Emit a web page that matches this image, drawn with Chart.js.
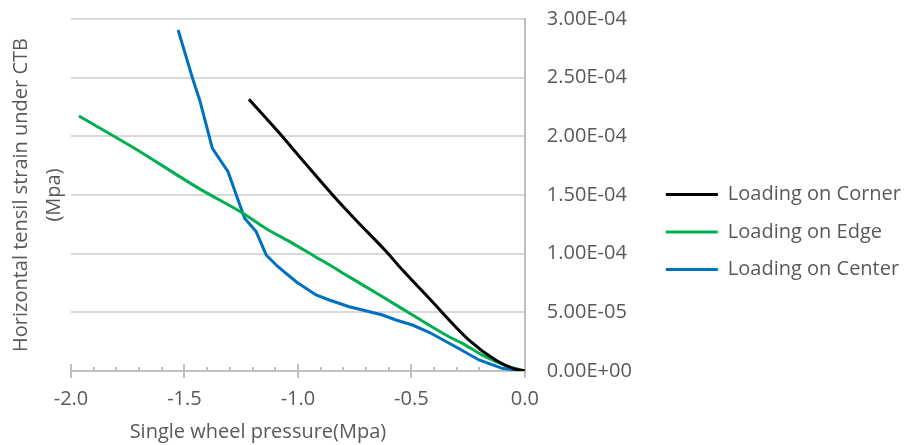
<!DOCTYPE html>
<html>
<head>
<meta charset="utf-8">
<script src="https://cdn.jsdelivr.net/npm/chart.js@4.4.1/dist/chart.umd.min.js"></script>
<style>
html,body{margin:0;padding:0;background:#ffffff;}
canvas{display:block;}
</style>
</head>
<body>
<canvas id="c" width="905" height="445"></canvas>
<script>
// ---- data ----
const seriesNames = ['Loading on Corner', 'Loading on Edge', 'Loading on Center'];

const cornerX = [-1.216, -1.081, -0.979, -0.847, -0.744, -0.612, -0.539, -0.422, -0.246, -0.129, -0.050, 0.0];
const cornerY = [2.316e-4, 2.026e-4, 1.795e-4, 1.500e-4, 1.285e-4, 1.020e-4, 0.860e-4, 0.620e-4, 0.264e-4, 0.094e-4, 0.020e-4, 0.0];

const edgeX = [-1.965, -1.726, -1.433, -1.243, -1.141, -1.023, -0.920, -0.862, -0.774, -0.627, -0.495, -0.334, -0.275, -0.188, -0.070, 0.0];
const edgeY = [2.173e-4, 1.905e-4, 1.552e-4, 1.345e-4, 1.215e-4, 1.088e-4, 0.970e-4, 0.905e-4, 0.802e-4, 0.633e-4, 0.477e-4, 0.292e-4, 0.236e-4, 0.136e-4, 0.037e-4, 0.0];

const centerX = [-1.528, -1.462, -1.433, -1.377, -1.308, -1.235, -1.184, -1.140, -1.088, -1.008, -0.920, -0.862, -0.774, -0.715, -0.627, -0.568, -0.495, -0.422, -0.305, -0.202, -0.100, 0.0];
const centerY = [2.906e-4, 2.480e-4, 2.310e-4, 1.898e-4, 1.699e-4, 1.301e-4, 1.188e-4, 0.989e-4, 0.889e-4, 0.761e-4, 0.648e-4, 0.605e-4, 0.548e-4, 0.520e-4, 0.477e-4, 0.435e-4, 0.392e-4, 0.330e-4, 0.207e-4, 0.094e-4, 0.023e-4, 0.0];

const xTickLabels = ['-2.0', '-1.5', '-1.0', '-0.5', '0.0'];
const yTickLabels = ['0.00E+00', '5.00E-05', '1.00E-04', '1.50E-04', '2.00E-04', '2.50E-04', '3.00E-04'];
const xTitle = 'Single wheel pressure(Mpa)';
const yTitle = ['Horizontal tensil strain under CTB', '(Mpa)'];

// ---- chart ----
const TEXT = '#595959';
const GRID = '#d9d9d9';
const AXIS = '#bfbfbf';
Chart.defaults.font.family = "'Open Sans', sans-serif";
Chart.defaults.font.size = 20;
Chart.defaults.color = TEXT;

function pts(xs, ys) { return xs.map((x, i) => ({x: x, y: ys[i]})); }
function sci(v) {
  let s = Number(v).toExponential(2).toUpperCase();
  const m = s.match(/^(-?[\d.]+)E([+-])(\d+)$/);
  if (!m) return s;
  return m[1] + 'E' + m[2] + (m[3].length < 2 ? '0' + m[3] : m[3]);
}

const lineDs = (label, data, color, smooth) => ({
  label, data, borderColor: color, backgroundColor: color,
  borderWidth: 3, pointRadius: 0, pointHoverRadius: 0,
  tension: smooth ? 0.4 : 0, cubicInterpolationMode: smooth ? 'monotone' : 'default',
  fill: false
});

new Chart(document.getElementById('c'), {
  type: 'line',
  data: {
    datasets: [
      lineDs(seriesNames[0], pts(cornerX, cornerY), '#000000', true),
      lineDs(seriesNames[1], pts(edgeX, edgeY), '#00b050', true),
      lineDs(seriesNames[2], pts(centerX, centerY), '#0070c0', false)
    ]
  },
  options: {
    responsive: false,
    animation: false,
    devicePixelRatio: 1,
    layout: {padding: {top: 19, left: 0, bottom: 0, right: -6}},
    plugins: {
      tooltip: {enabled: false},
      legend: {
        position: 'right',
        maxWidth: 400,
        labels: {
          usePointStyle: true,
          pointStyle: 'line',
          pointStyleWidth: 52,
          padding: 17.5,
          color: TEXT,
          font: {size: 20}
        }
      }
    },
    scales: {
      x: {
        type: 'linear',
        position: 'bottom',
        min: -2, max: 0,
        ticks: {
          stepSize: 0.5, padding: 9, color: TEXT, font: {size: 20},
          callback: (v, i) => xTickLabels[i] !== undefined ? xTickLabels[i] : Number(v).toFixed(1)
        },
        grid: {drawOnChartArea: false, drawTicks: true, tickLength: 7, color: AXIS, lineWidth: 2},
        border: {display: true, color: AXIS, width: 2},
        title: {
          display: true, text: xTitle + '\u2003\u2003\u2003\u2003', color: TEXT,
          font: {size: 20}, padding: {top: 9, bottom: 1}
        },
        afterFit: (s) => { s.height = 74; }
      },
      xMinor: {
        type: 'linear',
        position: {y: 3.41e-6},
        min: -2, max: 0,
        ticks: {display: false, stepSize: 0.1},
        grid: {drawOnChartArea: false, drawTicks: true, tickLength: 4, color: AXIS, lineWidth: 2},
        border: {display: false}
      },
      xMajorIn: {
        type: 'linear',
        position: {y: 5.97e-6},
        min: -2, max: 0,
        ticks: {display: false, stepSize: 0.5},
        grid: {drawOnChartArea: false, drawTicks: true, tickLength: 7, color: AXIS, lineWidth: 2},
        border: {display: false}
      },
      y: {
        type: 'linear',
        position: 'right',
        min: 0, max: 3e-4,
        ticks: {
          stepSize: 5e-5, padding: 0, color: TEXT, font: {size: 20},
          callback: (v, i) => yTickLabels[i] !== undefined ? yTickLabels[i] : sci(v)
        },
        grid: {drawTicks: true, tickLength: 22, tickColor: 'rgba(0,0,0,0)', color: GRID, lineWidth: 2},
        border: {display: true, color: AXIS, width: 2},
        afterFit: (s) => { s.width = 123.5; }
      },
      yTitleAxis: {
        type: 'linear',
        position: 'left',
        min: 0, max: 1,
        ticks: {display: false},
        grid: {display: false, drawTicks: false},
        border: {display: false},
        title: {
          display: true, text: yTitle, color: TEXT,
          font: {size: 20, lineHeight: 1.65}, padding: {top: 5, bottom: 0}
        },
        afterFit: (s) => { s.width = 71; }
      }
    }
  }
});
</script>
</body>
</html>
